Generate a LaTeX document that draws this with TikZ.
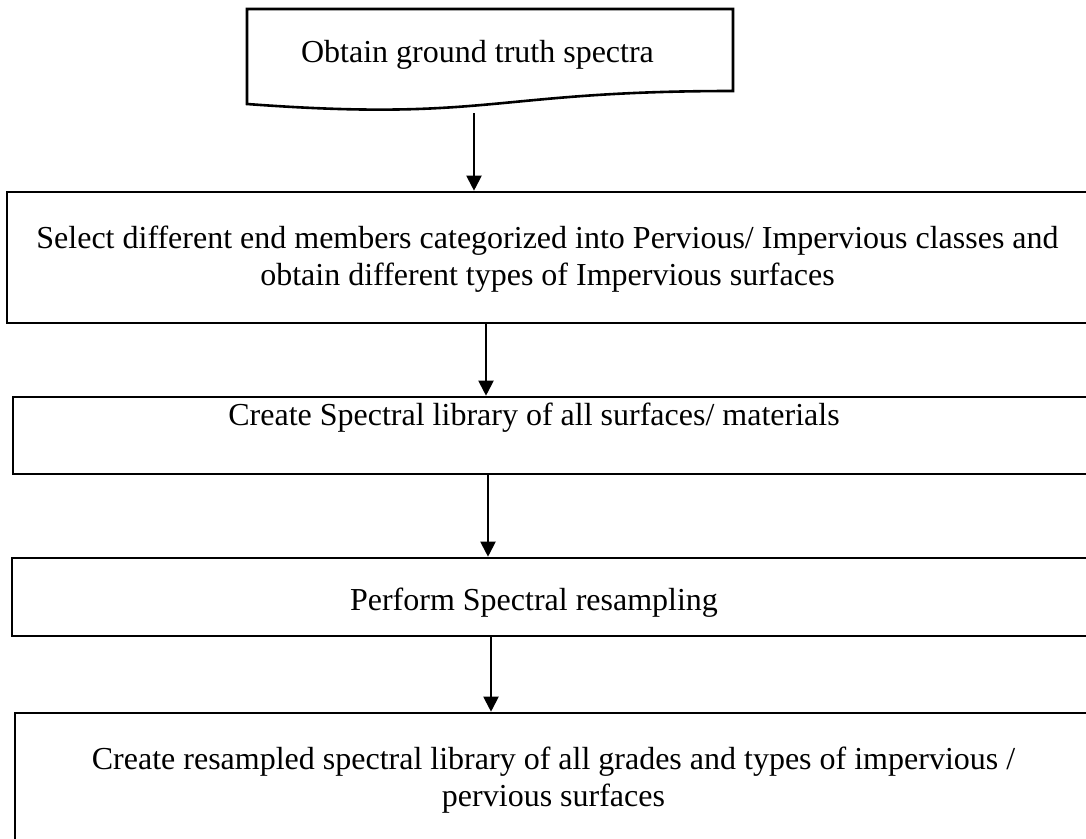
\documentclass[tikz,border=0pt]{standalone}
\usepackage{fontspec}
\setmainfont{Liberation Serif}
\usetikzlibrary{arrows.meta}
\begin{document}
\begin{tikzpicture}[x=1pt,y=-1pt,
  boxstyle/.style={draw, line width=2.6pt},
  stepbox/.style={boxstyle, shape=rectangle, inner sep=0pt},
  lbl/.style={font=\fontsize{32}{37}\selectfont, anchor=base, inner sep=0pt},
  arr/.style={line width=2pt, -{Triangle[length=15pt,width=15pt]}}]
\useasboundingbox (0,0) rectangle (1086,838);
\clip (0,0) rectangle (1086,838);
% top document shape
\draw[boxstyle] (247,9) coordinate (b1nw) -- (733,9) -- (733,91)
  .. controls (490,91) and (490,122) .. (247,104) -- cycle;
\coordinate (s1) at (474,113);
% boxes
\node[stepbox, minimum width=1090pt, minimum height=131pt] (b2) at (552,257.5) {};
\node[stepbox, minimum width=1087pt, minimum height=77pt] (b3) at (556.5,435.5) {};
\node[stepbox, minimum width=1088pt, minimum height=78pt] (b4) at (556,597) {};
\node[stepbox, minimum width=1085pt, minimum height=187pt] (b5) at (557.5,806.5) {};
% texts
\node[lbl] (t1) at (477.5,62) {Obtain ground truth spectra};
\node[lbl] (t2a) at (547.5,248) {Select different end members categorized into Pervious/ Impervious classes and};
\node[lbl] (t2b) at (547.5,285) {obtain different types of Impervious surfaces};
\node[lbl] (t3) at (534,425) {Create Spectral library of all surfaces/ materials};
\node[lbl] (t4) at (534,610) {Perform Spectral resampling};
\node[lbl] (t5a) at (553.5,769) {Create resampled spectral library of all grades and types of impervious /};
\node[lbl] (t5b) at (553.5,806) {pervious surfaces};
% arrows
\draw[arr] (s1) -- (s1 |- b2.north);
\draw[arr] ([xshift=-66pt]b2.south) -- ([xshift=-66pt]b2.south |- b3.north);
\draw[arr] ([xshift=-68.5pt]b3.south) -- ([xshift=-68.5pt]b3.south |- b4.north);
\draw[arr] ([xshift=-65pt]b4.south) -- ([xshift=-65pt]b4.south |- b5.north);
\end{tikzpicture}
\end{document}
